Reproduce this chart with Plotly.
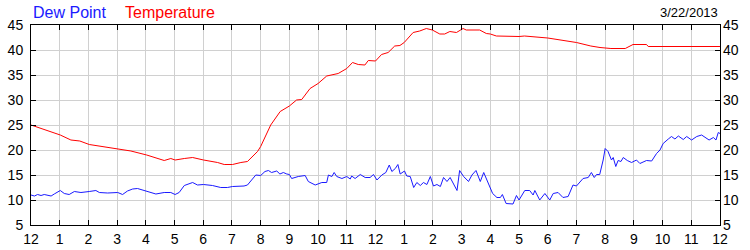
import plotly.graph_objects as go

# ---- data (hours since midnight) ----
dew_hours = [0.00, 0.12, 0.23, 0.35, 0.46, 0.58, 0.70, 0.81, 1.02, 1.16, 1.33, 1.51, 1.74, 2.03, 2.26, 2.38,
             2.67, 3.02, 3.19, 3.36, 3.54, 3.71, 4.03, 4.35, 4.64, 4.87, 5.02, 5.16, 5.34, 5.63, 5.80, 6.01,
             6.32, 6.61, 6.84, 7.02, 7.42, 7.54, 7.83, 8.00, 8.15, 8.27, 8.38, 8.56, 8.67, 8.79, 8.91, 9.00,
             9.08, 9.31, 9.55, 9.66, 9.90, 10.01, 10.13, 10.30, 10.36, 10.48, 10.56, 10.65, 10.83, 11.00,
             11.12, 11.17, 11.29, 11.47, 11.64, 11.81, 11.93, 12.05, 12.22, 12.36, 12.48, 12.57, 12.69, 12.78,
             12.86, 13.01, 13.09, 13.21, 13.33, 13.44, 13.56, 13.67, 13.79, 13.91, 14.02, 14.14, 14.26, 14.37,
             14.49, 14.60, 14.72, 14.84, 14.93, 15.07, 15.24, 15.36, 15.50, 15.65, 15.77, 15.94, 16.08, 16.23,
             16.35, 16.42, 16.55, 16.79, 16.91, 17.00, 17.20, 17.37, 17.49, 17.55, 17.72, 17.90, 18.07, 18.19,
             18.36, 18.53, 18.71, 18.88, 19.00, 19.23, 19.41, 19.52, 19.62, 19.70, 19.81, 19.93, 20.00, 20.10,
             20.22, 20.28, 20.37, 20.45, 20.55, 20.63, 20.77, 20.92, 21.09, 21.21, 21.44, 21.62, 21.79, 21.91,
             22.02, 22.20, 22.31, 22.43, 22.55, 22.72, 22.84, 23.01, 23.19, 23.36, 23.48, 23.62, 23.77, 23.86,
             23.94, 24.00]
dew_point = [11.0, 10.8, 11.1, 10.9, 11.1, 11.0, 10.8, 11.2, 11.9, 11.3, 11.1, 11.7, 11.5, 11.7, 11.9, 11.5,
             11.4, 11.5, 11.1, 11.8, 12.2, 12.3, 11.8, 11.2, 11.5, 11.5, 11.1, 11.5, 12.9, 13.5, 13.0, 13.1,
             12.9, 12.5, 12.5, 12.7, 12.8, 13.0, 15.0, 14.9, 15.7, 15.9, 15.5, 15.8, 15.2, 15.5, 15.2, 15.1,
             14.3, 14.7, 14.9, 13.7, 13.0, 13.3, 13.5, 13.5, 15.0, 14.7, 15.5, 14.7, 14.3, 14.7,
             14.2, 14.8, 14.3, 15.1, 14.5, 14.5, 15.1, 14.0, 15.0, 15.5, 17.0, 15.7, 16.3, 17.1,
             15.2, 15.8, 14.8, 14.7, 12.5, 13.5, 12.9, 13.5, 13.1, 14.7, 12.8, 13.1, 12.7, 14.5,
             13.7, 14.5, 13.1, 11.9, 15.9, 14.7, 13.7, 15.0, 15.9, 13.7, 15.5, 13.0, 11.3, 10.5,
             10.5, 11.1, 9.3, 9.2, 10.9, 10.0, 11.9, 11.9, 11.0, 11.9, 10.0, 11.3, 10.0, 11.3,
             11.5, 10.5, 10.7, 13.0, 12.8, 14.3, 14.5, 15.5, 14.5, 15.1, 15.1, 18.0, 20.3, 19.7,
             18.0, 18.5, 16.7, 17.9, 17.7, 18.5, 17.9, 17.5, 18.0, 17.3, 17.9, 17.8, 19.3, 20.0,
             21.3, 22.2, 22.7, 22.2, 22.8, 22.1, 22.7, 22.0, 22.7, 23.0, 22.5, 22.0, 22.5, 22.0,
             23.5, 23.3]

temp_hours = [0.00, 0.50, 1.02, 1.39, 1.70, 2.03, 2.50, 3.02, 3.48, 4.03, 4.52, 4.64, 4.87, 5.02, 5.34, 5.63,
              6.01, 6.50, 6.73, 7.02, 7.31, 7.54, 7.89, 8.00, 8.35, 8.68, 9.00, 9.25, 9.43, 9.72, 10.00,
              10.30, 10.70, 11.00, 11.20, 11.40, 11.63, 11.75, 12.00, 12.21, 12.44, 12.67, 12.85, 13.00,
              13.31, 13.54, 13.77, 13.98, 14.24, 14.41, 14.59, 14.82, 15.05, 15.16, 15.63, 15.86, 16.00,
              16.21, 17.00, 17.19, 18.00, 18.50, 19.00, 19.50, 19.82, 20.20, 20.70, 20.97, 21.44, 21.50,
              22.00, 23.00, 24.00]
temperature = [25.0, 24.0, 23.0, 22.0, 21.8, 21.1, 20.7, 20.2, 19.8, 19.0, 18.1, 17.9, 18.3, 18.0, 18.3, 18.5,
               18.0, 17.5, 17.1, 17.1, 17.5, 17.7, 19.7, 20.7, 25.0, 27.7, 28.8, 30.0, 30.1, 32.3, 33.3,
               34.8, 35.3, 36.3, 37.5, 37.1, 37.0, 37.9, 37.8, 39.1, 39.5, 40.8, 40.9, 41.5,
               43.5, 43.8, 44.3, 44.0, 43.2, 43.2, 43.7, 43.5, 44.3, 44.0, 44.0, 43.3, 43.2,
               42.8, 42.7, 42.8, 42.4, 42.0, 41.5, 40.8, 40.5, 40.3, 40.3, 41.1, 41.1, 40.7,
               40.7, 40.7, 40.7]

tick_hours = list(range(0, 25))
tick_labels = ["12", "1", "2", "3", "4", "5", "6", "7", "8", "9", "10", "11",
               "12", "1", "2", "3", "4", "5", "6", "7", "8", "9", "10", "11", "12"]
y_ticks = [5, 10, 15, 20, 25, 30, 35, 40, 45]
date_label = "3/22/2013"

BLUE = "#1a1aff"
RED = "#ff0000"
FONT = "Liberation Sans, Arial, sans-serif"

fig = go.Figure()
fig.add_trace(go.Scatter(x=dew_hours, y=dew_point, mode="lines",
                         line=dict(color=BLUE, width=1), name="Dew Point"))
fig.add_trace(go.Scatter(x=temp_hours, y=temperature, mode="lines",
                         line=dict(color=RED, width=1), name="Temperature"))
# invisible trace to display the right-hand axis
fig.add_trace(go.Scatter(x=[0], y=[25], yaxis="y2", mode="markers",
                         marker=dict(opacity=0), hoverinfo="skip", showlegend=False))

fig.update_layout(
    width=750, height=250,
    margin=dict(l=31, r=30, t=25, b=25),
    paper_bgcolor="white", plot_bgcolor="white",
    showlegend=False,
    font=dict(family=FONT, size=14, color="#000000"),
    xaxis=dict(range=[0, 24], tickvals=tick_hours, ticktext=tick_labels,
               ticks="inside", ticklen=5, tickcolor="black", tickwidth=1,
               showline=True, linecolor="black", linewidth=1, mirror="ticks",
               showgrid=True, gridcolor="#d0d0d0", gridwidth=1, zeroline=False,
               ticklabelstandoff=1, automargin=False,
               tickfont=dict(size=14, color="#000000")),
    yaxis=dict(range=[5, 45], tickvals=y_ticks,
               ticks="inside", ticklen=5, tickcolor="black", tickwidth=1,
               showline=True, linecolor="black", linewidth=1, mirror=True,
               showgrid=True, gridcolor="#d0d0d0", gridwidth=1, zeroline=False,
               ticklabelstandoff=4, automargin=False,
               tickfont=dict(size=14, color="#000000")),
    yaxis2=dict(range=[5, 45], tickvals=y_ticks, overlaying="y", side="right", anchor="x",
                ticks="inside", ticklen=5, tickcolor="black", tickwidth=1,
                showline=False, showgrid=False, zeroline=False,
                ticklabelstandoff=2, automargin=False,
                tickfont=dict(size=14, color="#000000")),
    annotations=[
        dict(text="Dew Point", xref="paper", yref="paper", x=0.0, y=1.065,
             xanchor="left", yanchor="middle", showarrow=False,
             font=dict(family=FONT, size=16, color=BLUE)),
        dict(text="Temperature", xref="paper", yref="paper", x=0.1335, y=1.065,
             xanchor="left", yanchor="middle", showarrow=False,
             font=dict(family=FONT, size=16, color=RED)),
        dict(text=date_label, xref="paper", yref="paper", x=1.0, y=1.065,
             xanchor="right", yanchor="middle", showarrow=False,
             font=dict(family=FONT, size=13, color="#000000")),
    ],
)

fig.write_html("out.html")
